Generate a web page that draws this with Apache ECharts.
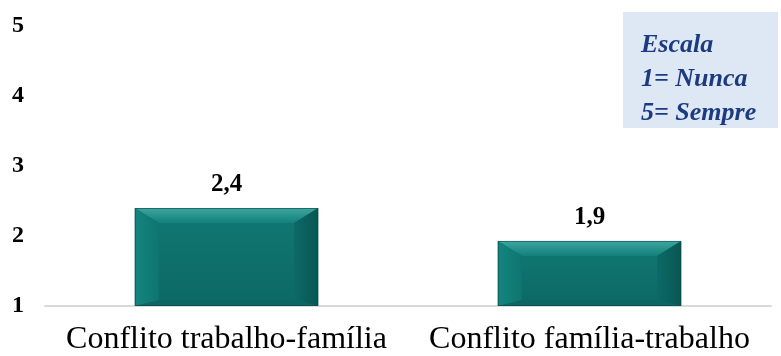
<!DOCTYPE html>
<html><head><meta charset="utf-8">
<script src="https://cdn.jsdelivr.net/npm/echarts@6/dist/echarts.min.js"></script>
<style>html,body{margin:0;padding:0;background:#fff}#c{width:781px;height:356px}</style>
</head><body><div id="c"></div>
<script>
const categories = ['Conflito trabalho-família', 'Conflito família-trabalho'];
const values = [2.4, 1.93];
const valueLabels = ['2,4', '1,9'];
const yTicks = [1, 2, 3, 4, 5];
const legendLines = ['Escala', '1= Nunca', '5= Sempre'];

const chart = echarts.init(document.getElementById('c'));
function renderBar(params, api) {
  const idx = api.value(0);
  const top = api.coord([idx, api.value(1)]);
  const base = api.coord([idx, 1]);
  const band = api.size([1, 0])[0];
  const w = band * 0.505;
  const x0 = top[0] - w / 2, x1 = top[0] + w / 2;
  const y0 = top[1], y1 = base[1];
  const bx = 24, by = 15;
  const ix0 = x0 + bx, ix1 = x1 - bx, iy0 = y0 + by, iy1 = y1 - 6;
  return {
    type: 'group',
    children: [
      {type: 'rect', shape: {x: x0, y: y0, width: w, height: y1 - y0}, style: {fill: '#0c6663'}},
      {type: 'polygon', shape: {points: [[x0, y0], [x1, y0], [ix1, iy0], [ix0, iy0]]},
        style: {fill: new echarts.graphic.LinearGradient(0, 0, 0, 1, [{offset: 0, color: '#3ea69f'}, {offset: 1, color: '#12807b'}])}},
      {type: 'polygon', shape: {points: [[x0, y0], [ix0, iy0], [ix0, iy1], [x0, y1]]},
        style: {fill: new echarts.graphic.LinearGradient(0, 0, 1, 0, [{offset: 0, color: '#14857f'}, {offset: 1, color: '#0f7570'}])}},
      {type: 'polygon', shape: {points: [[x1, y0], [ix1, iy0], [ix1, iy1], [x1, y1]]},
        style: {fill: new echarts.graphic.LinearGradient(0, 0, 1, 0, [{offset: 0, color: '#0d6966'}, {offset: 1, color: '#095653'}])}},
      {type: 'rect', shape: {x: ix0, y: iy0, width: ix1 - ix0, height: iy1 - iy0},
        style: {fill: new echarts.graphic.LinearGradient(0, 0, 0, 1, [{offset: 0, color: '#107570'}, {offset: 1, color: '#0c6a66'}])}},
      {type: 'rect', shape: {x: x0 + 0.5, y: y0 + 0.5, width: w - 1, height: y1 - y0 - 1}, style: {fill: 'none', stroke: 'rgba(8,70,68,0.6)', lineWidth: 1}},
      {type: 'text', style: {text: valueLabels[idx], x: top[0], y: y0 - 11, align: 'center', verticalAlign: 'bottom',
        fontFamily: '"Liberation Serif", "Times New Roman", serif', fontSize: 25, fontWeight: 'bold', fill: '#000'}}
    ]
  };
}
chart.setOption({
  animation: false,
  grid: {left: 45, right: 10, top: 26, bottom: 50},
  xAxis: {
    type: 'category', data: categories,
    axisLine: {show: true, lineStyle: {color: '#d9d9d9', width: 2}},
    axisTick: {show: false},
    axisLabel: {interval: 0, color: '#000', fontFamily: '"Liberation Serif", "Times New Roman", serif', fontSize: 32, margin: 18}
  },
  yAxis: {
    type: 'value', min: 1, max: 5, interval: 1,
    axisLine: {show: false}, axisTick: {show: false}, splitLine: {show: false},
    axisLabel: {color: '#000', fontFamily: '"Liberation Serif", "Times New Roman", serif', fontSize: 24, fontWeight: 'bold',
      margin: 21, align: 'right', formatter: v => yTicks.includes(v) ? String(v) : ''}
  },
  series: [{
    type: 'custom', renderItem: renderBar, clip: false,
    data: values.map((v, i) => [i, v])
  }],
  graphic: [
    {type: 'rect', left: 623, top: 12, shape: {width: 155, height: 116}, style: {fill: '#dde8f4'}},
    {type: 'text', left: 641, top: 28, style: {text: legendLines.join('\n'), lineHeight: 34,
      fontFamily: '"Liberation Serif", "Times New Roman", serif', fontSize: 26, fontStyle: 'italic', fontWeight: 'bold', fill: '#1b3a80'}}
  ]
});
</script></body></html>
